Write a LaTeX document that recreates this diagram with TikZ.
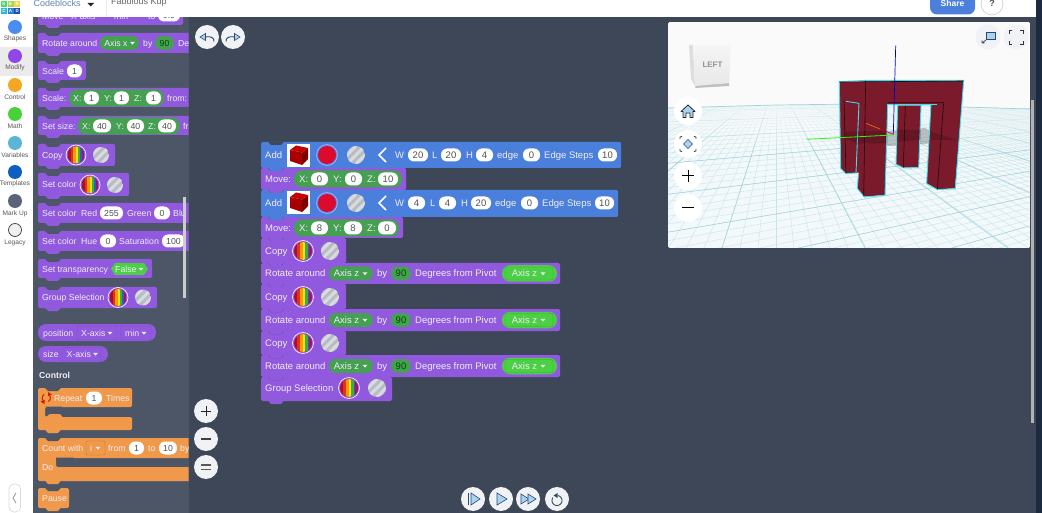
\documentclass[tikz,border=0pt]{standalone}
\usepackage{fontspec}
\setmainfont{Liberation Sans}
\definecolor{wsbg}{HTML}{3D4757}
\definecolor{palbg}{HTML}{4C5666}
\definecolor{navy}{HTML}{1C2A40}
\definecolor{purp}{HTML}{9059DE}
\definecolor{bluebk}{HTML}{4A80DC}
\definecolor{orng}{HTML}{F0994A}
\definecolor{gpill}{HTML}{45A052}
\definecolor{bgreen}{HTML}{4CCF45}
\definecolor{txtc}{HTML}{F0EDF7}
\definecolor{pilltxt}{HTML}{505050}
\definecolor{btn}{HTML}{F0F2F5}
\definecolor{icb}{HTML}{A9D3F5}
\definecolor{icd}{HTML}{2F4A68}
\definecolor{objred}{HTML}{7A1A2B}
\definecolor{objcy}{HTML}{35E0F0}
\definecolor{grid}{HTML}{C6E4EA}
\definecolor{gridm}{HTML}{A0D2DC}
\definecolor{ground}{HTML}{F3F9FA}
\definecolor{redsw}{HTML}{DC0A2D}
\definecolor{greybase}{HTML}{B8BCC4}
\definecolor{greystr}{HTML}{D8DBDF}
\definecolor{rb1}{HTML}{A80F2E}
\definecolor{rb2}{HTML}{E0301F}
\definecolor{rb3}{HTML}{F59A00}
\definecolor{rb4}{HTML}{F2E21A}
\definecolor{rb5}{HTML}{3FAE3A}
\definecolor{rb6}{HTML}{2A5FB5}
\definecolor{rb7}{HTML}{A8106E}
\newcommand{\fsz}{9.5}
\newcount\nn
\newcommand{\nx}{\global\advance\nn by 1 }
\newcommand{\tx}[3]{\nx\node[lbl] (t\the\nn) at (#1,#2) {#3};}
\newcommand{\pil}[4]{\nx\node[pillw,minimum width={(#2-#1)*1pt}] (p\the\nn) at ({(#1+#2)/2},#3) {#4};}
\newcommand{\gp}[4]{\nx\node[pillg,fill=#4,minimum height=17pt,rounded corners=8pt,minimum width={(#2-#1)*1pt}] (g\the\nn) at ({(#1+#2)/2},#3) {};}
\newcommand{\gpt}[5]{\nx\node[pillg,fill=#4,minimum width={(#2-#1)*1pt}] (g\the\nn) at ({(#1+#2)/2},#3) {#5};}
\newcommand{\gpb}[4]{\nx\node[pillg,fill=bgreen,minimum height=16.5pt,rounded corners=8pt,minimum width={(#2-#1)*1pt}] (g\the\nn) at ({(#1+#2)/2},#3) {#4};}
\newcommand{\dd}[3][txtc]{\fill[#1] (#2-2.5,#3-1.2) -- (#2+2.5,#3-1.2) -- (#2,#3+1.6) -- cycle;}
% block: color, x1,y1,x2,y2, notch colour
\newcommand{\bk}[6]{%
 \fill[#1,rounded corners=1.5pt] (#2,#3) rectangle (#4,#5);
 \fill[#6] (#2+7,#3-0.2) -- (#2+10,#3+3) -- (#2+20,#3+3) -- (#2+23,#3-0.2) -- cycle;
 \fill[#1] (#2+7,#5-0.5) -- (#2+10,#5+3) -- (#2+20,#5+3) -- (#2+23,#5-0.5) -- cycle;}
\newcommand{\rb}[3]{%
 \begin{scope}
 \clip (#1,#2) circle[radius=#3pt];
 \fill[rb1] (#1-#3,#2-#3) rectangle (#1+#3,#2+#3);
 \fill[rb2] (#1-#3*0.62,#2-#3) rectangle (#1-#3*0.3,#2+#3);
 \fill[rb3] (#1-#3*0.3,#2-#3) rectangle (#1-#3*0.02,#2+#3);
 \fill[rb4] (#1-#3*0.02,#2-#3) rectangle (#1+#3*0.22,#2+#3);
 \fill[rb5] (#1+#3*0.22,#2-#3) rectangle (#1+#3*0.5,#2+#3);
 \fill[rb6] (#1+#3*0.5,#2-#3) rectangle (#1+#3*0.68,#2+#3);
 \fill[rb7] (#1+#3*0.68,#2-#3) rectangle (#1+#3,#2+#3);
 \end{scope}
 \draw[white!90!purp,line width=0.7pt] (#1,#2) circle[radius=#3pt+1.5pt];}
\newcommand{\gy}[3]{%
 \begin{scope}
 \clip (#1,#2) circle[radius=#3pt];
 \fill[greybase] (#1-#3,#2-#3) rectangle (#1+#3,#2+#3);
 \foreach \d in {-9,0,9}{\draw[greystr,line width=3pt] (#1+\d-#3,#2+#3) -- (#1+\d+#3,#2-#3);}
 \end{scope}}
\newcommand{\redc}[2]{\fill[redsw] (#1,#2) circle[radius=9pt]; \draw[white!70!blue,line width=0.7pt] (#1,#2) circle[radius=10.4pt];}
\newcommand{\cubeicon}[2]{%
 \fill[white] (#1,#2) rectangle (#1+23,#2+23);
 \fill[red!65!black] (#1+3,#2+6) -- (#1+15,#2+8.5) -- (#1+15,#2+21) -- (#1+3,#2+17) -- cycle;
 \fill[red!50!black] (#1+15,#2+8.5) -- (#1+21,#2+4) -- (#1+21,#2+15) -- (#1+15,#2+21) -- cycle;
 \fill[red!78!black] (#1+3,#2+6) -- (#1+9,#2+1.5) -- (#1+21,#2+4) -- (#1+15,#2+8.5) -- cycle;}
\newcommand{\cbtn}[3]{\fill[btn] (#1,#2) circle[radius=#3pt];}
% workspace rotate row
\newcommand{\rotrow}[2]{%
 \bk{purp}{261}{#1}{560}{#2}{wsbg}
 \pgfmathsetmacro{\cy}{(#1+#2)/2}
 \tx{265}{\cy}{Rotate around}
 \gpt{329}{373}{\cy}{gpill}{\hspace{-9pt}Axis z}
 \dd{365}{\cy}
 \tx{377}{\cy}{by}
 \gpt{391}{411}{\cy}{gpill}{\textcolor{green!30!black}{90}}
 \tx{415}{\cy}{Degrees from Pivot}
 \gpb{502}{557}{\cy}{\hspace{-10pt}Axis z}
 \draw[bgreen!80!black,line width=0.4pt,rounded corners=2pt] (505,\cy-6.5) rectangle (553,\cy+6.5);
 \dd{543}{\cy}}
\newcommand{\copyrow}[3]{%
 \bk{purp}{261}{#1}{346}{#2}{wsbg}
 \tx{265}{#3}{Copy}
 \rb{303}{#3}{9}
 \gy{330}{#3}{9}}
\tikzset{
 lbl/.style={anchor=west,inner sep=0pt,text=txtc,font=\fontsize{\fsz}{10}\selectfont,text height=6.6pt,text depth=0pt},
 pillw/.style={fill=white,text=pilltxt,rounded corners=6pt,inner sep=0pt,minimum height=13pt,font=\fontsize{\fsz}{10}\selectfont,text height=6.3pt,text depth=0pt},
 pillg/.style={rounded corners=7pt,inner sep=0pt,minimum height=14pt,text=txtc,font=\fontsize{\fsz}{10}\selectfont,text height=6.3pt,text depth=0pt},
 side/.style={inner sep=0pt,text=black!65,font=\fontsize{6.6}{8}\selectfont},
}
\begin{document}
\begin{tikzpicture}[x=1pt,y=-1pt]
\useasboundingbox (0,0) rectangle (1042,513);
\fill[wsbg] (0,0) rectangle (1042,513);
\fill[palbg] (33,17) rectangle (189,513);
\fill[navy] (1036,0) rectangle (1042,513);
\fill[black!30] (1031,100) rectangle (1034,423);
%
% ---- viewer
\begin{scope}
\clip[rounded corners=1.5pt] (668,22) rectangle (1030,248);
\fill[white!96!gray] (668,22) rectangle (1030,110);
\fill[ground] (668,108) -- (776,105) -- (860,104) -- (1030,109) -- (1030,248) -- (668,248) -- cycle;
\begin{scope}
\clip (668,108) -- (776,105) -- (860,104) -- (1030,109) -- (1030,248) -- (668,248) -- cycle;
\foreach \k in {-90,...,90}{\draw[grid,line width=0.4pt] (776,78) -- ({776-54+18*\k},248);}
\foreach \k in {0,...,42}{\draw[grid,line width=0.4pt] (1500,92) -- (500,{92+(14+0.12*\k*\k)/0.724});}
\foreach \k in {-12,...,12}{\draw[gridm,line width=0.55pt] (776,78) -- ({776-54+143*\k},248);}
\foreach \k in {5,10,...,40}{\draw[gridm,line width=0.5pt] (1500,92) -- (500,{92+(14+0.12*\k*\k)/0.724});}
\foreach \y in {108,113,...,148}{\fill[white,opacity=0.12] (668,100) rectangle (1030,\y);}
\end{scope}
\draw[gridm,line width=0.7pt] (668,108) -- (776,105) -- (860,104) -- (1030,109);
\end{scope}
% view cube
\fill[black!25] (696,85) -- (729,83) -- (729,86) -- (695,88) -- cycle;
\fill[black!13] (689,45) -- (693,45) -- (695,86) -- (691,79) -- cycle;
\shade[top color=white!96!black,bottom color=black!9] (693,45) -- (731,45) -- (729,83) -- (695,86) -- cycle;
\node[inner sep=0pt,text=black!42,font=\fontsize{8}{9}\bfseries\selectfont] (cubelbl) at (712.5,65) {LEFT};
% shadow on ground
\fill[black!60,opacity=0.38] (888,131) -- (925,128) -- (935,134) -- (958,141) -- (900,146) -- (885,146) -- cycle;
% object
\begin{scope}[shift={(820,60)},x=0.3333pt,y=-0.3333pt]
\fill[objred] (233,137) -- (303,137) -- (296,322) -- (250,323) -- (228,312) -- cycle;
\draw[objcy,line width=0.9pt,line join=round] (233,137) -- (228,313) -- (250,324) -- (296,323) -- (303,137);
\draw[black!70!objred,line width=0.6pt] (256,137) -- (250,323);
\fill[objred] (58,65) -- (431,62) -- (405,385) -- (352,388) -- (320,370) -- (333,132) -- (203,132) -- (195,405) -- (133,410) -- (112,385) -- (116,338) -- (78,340) -- (62,325) -- cycle;
\draw[objcy,line width=0.9pt,line join=round] (58,65) -- (137,61) -- (431,61) -- (406,386) -- (352,389) -- (320,371) -- (333,132);
\draw[objcy,line width=0.9pt,line join=round] (58,65) -- (62,325) -- (78,341) -- (108,339);
\draw[objcy,line width=0.9pt,line join=round] (108,339) -- (117,130) -- (78,124);
\draw[objcy,line width=0.9pt,line join=round] (203,132) -- (195,406) -- (133,411) -- (112,386) -- (115,345);
\draw[objcy,line width=0.9pt] (203,132) -- (352,132);
\draw[black!70!objred,line width=0.6pt] (137,63) -- (131,408);
\draw[black!70!objred,line width=0.6pt] (58,66) -- (431,63);
\draw[black!70!objred,line width=0.6pt] (203,128) -- (371,128) -- (352,388);
\draw[black!70!objred,line width=0.6pt] (72,122) -- (78,340);
\fill[black,opacity=0.16] (72,215) -- (203,212) -- (203,250) -- (110,250) -- (72,235) -- cycle;
\fill[black,opacity=0.16] (233,210) -- (303,210) -- (303,240) -- (233,245) -- cycle;
\fill[black,opacity=0.16] (333,215) -- (410,240) -- (333,240) -- cycle;
\end{scope}
% axes
\draw[blue!80!black,line width=0.7pt] (895.7,45.7) -- (893.3,134.5);
\draw[green!85!yellow,line width=0.8pt] (806.7,139.3) -- (893.3,135);
\draw[orange!90!red,line width=0.6pt] (866,123.3) -- (880,129);
\draw[red!85!black,line width=0.6pt] (880,129) -- (893.3,134.3);
% viewer buttons
\foreach \yy in {111,144,176,208}{\fill[white] (688,\yy) circle[radius=14pt];}
\fill[btn] (988,37) circle[radius=12.5pt]; \fill[btn] (1016,37) circle[radius=12.5pt];
\fill[icb] (688,105) -- (681,111.5) -- (683,111.5) -- (683,117.5) -- (686,117.5) -- (686,113) -- (690,113) -- (690,117.5) -- (693,117.5) -- (693,111.5) -- (695,111.5) -- cycle;
\draw[black!85,line width=0.8pt,line join=round] (688,105) -- (681,111.5) -- (683,111.5) -- (683,117.5) -- (686,117.5) -- (686,113) -- (690,113) -- (690,117.5) -- (693,117.5) -- (693,111.5) -- (695,111.5) -- cycle;
\fill[icb,draw=icd,line width=0.6pt] (688,139.5) -- (692.5,144) -- (688,148.5) -- (683.5,144) -- cycle;
\draw[icd,line width=0.9pt] (680,139) -- (680,137) -- (682,136.5) (694,136.5) -- (696,137) -- (696,139) (680,149) -- (680,151) -- (682,151.5) (694,151.5) -- (696,151) -- (696,149);
\draw[black,line width=1pt] (682,176) -- (694,176) (688,170) -- (688,182);
\draw[black,line width=1pt] (682,208) -- (694,208);
\fill[icb,draw=icd,line width=0.5pt] (986,32.5) rectangle (995,39);
\draw[icd,line width=0.8pt] (982,43) -- (986,40) (982,43) -- (982,40.5) (982,43) -- (984.5,43);
\draw[black!80,line width=1pt] (1009,34) -- (1009,30.5) -- (1012,30.5) (1020,30.5) -- (1023,30.5) -- (1023,34) (1009,41) -- (1009,44.5) -- (1012,44.5) (1020,44.5) -- (1023,44.5) -- (1023,41);
%
% ---- workspace blocks (drawn bottom to top so tabs sit over the next block)
\bk{purp}{261}{377}{392}{401}{wsbg}
\tx{265}{388}{Group Selection}
\rb{349}{388}{9}
\gy{377}{388}{9}
\rotrow{355}{377}
\copyrow{331}{355}{343}
\rotrow{309}{331}
\copyrow{284}{309}{297}
\rotrow{263}{284}
\copyrow{238}{263}{251}
% Move 2
\bk{purp}{261}{217}{403}{238}{wsbg}
\tx{265}{228}{Move:}
\gp{294}{399}{228}{gpill}
\tx{299}{228}{X:} \pil{311}{328}{228}{8}
\tx{333}{228}{Y:} \pil{344}{362}{228}{8}
\tx{367}{228}{Z:} \pil{378}{396}{228}{0}
% Add 2
\bk{bluebk}{261}{190}{618}{217}{wsbg}
\tx{265}{203}{Add}
\cubeicon{287}{191}
\redc{327}{203}
\gy{356}{203}{9}
\draw[white,line width=1.5pt] (386,196) -- (379,203) -- (386,210);
\tx{395}{203}{W} \pil{408}{425}{203}{4}
\tx{430}{203}{L} \pil{439}{456}{203}{4}
\tx{461}{203}{H} \pil{471}{491}{203}{20}
\tx{495}{203}{edge} \pil{521}{538}{203}{0}
\tx{542}{203}{Edge Steps} \pil{595}{614}{203}{10}
% Move 1
\bk{purp}{261}{168}{406}{190}{wsbg}
\tx{265}{179}{Move:}
\gp{294}{402}{179}{gpill}
\tx{299}{179}{X:} \pil{311}{328}{179}{0}
\tx{333}{179}{Y:} \pil{345}{362}{179}{0}
\tx{367}{179}{Z:} \pil{378}{398}{179}{10}
% Add 1
\bk{bluebk}{261}{142}{621}{168}{wsbg}
\tx{265}{155}{Add}
\cubeicon{287}{144}
\redc{327}{155}
\gy{356}{155}{9}
\draw[white,line width=1.5pt] (386,148) -- (379,155) -- (386,162);
\tx{395}{155}{W} \pil{408}{428}{155}{20}
\tx{432}{155}{L} \pil{441}{461}{155}{20}
\tx{466}{155}{H} \pil{476}{493}{155}{4}
\tx{497}{155}{edge} \pil{523}{540}{155}{0}
\tx{544}{155}{Edge Steps} \pil{598}{617}{155}{10}
%
% ---- workspace buttons
\cbtn{207}{37}{12} \cbtn{233}{37}{12}
\draw[icd,line width=0.9pt] (205,37) .. controls (212,36) and (214,38) .. (214,41.5);
\fill[icb,draw=icd,line width=0.6pt] (200,37) -- (205.5,33.5) -- (205.5,40.5) -- cycle;
\draw[icd,line width=0.9pt] (235,37) .. controls (228,36) and (226,38) .. (226,41.5);
\fill[icb,draw=icd,line width=0.6pt] (240,37) -- (234.5,33.5) -- (234.5,40.5) -- cycle;
\cbtn{206}{411}{12} \cbtn{206}{439}{12} \cbtn{206}{467}{12}
\draw[black!85,line width=1pt] (201,411) -- (211,411) (206,406) -- (206,416);
\draw[black!75,line width=1.2pt] (201,439) -- (211,439);
\draw[black!65,line width=1.2pt] (201,465) -- (211,465) (201,469.5) -- (211,469.5);
\cbtn{473}{499}{12} \cbtn{501}{499}{12} \cbtn{528}{499}{12} \cbtn{557}{499}{12}
\draw[icd,line width=1pt] (468,493) -- (468,505);
\fill[icb,draw=icd,line width=0.6pt] (471,493) -- (480,499) -- (471,505) -- cycle;
\fill[icb,draw=icd,line width=0.6pt] (497,493) -- (507,499) -- (497,505) -- cycle;
\fill[icb,draw=icd,line width=0.6pt] (521,494) -- (529,499) -- (521,504) -- cycle;
\fill[icb,draw=icd,line width=0.6pt] (528,494) -- (536,499) -- (528,504) -- cycle;
\draw[icd,line width=0.9pt] plot[smooth,domain=-80:215,samples=24] ({557+5*cos(\x)},{500.5+5*sin(\x)});
\fill[icd] (553.5,495.5) -- (557.5,493) -- (557.5,498) -- cycle;
%
% ---- palette (clipped to its panel)
\begin{scope}
\renewcommand{\fsz}{8.7}
\clip (33,17) rectangle (188.5,513);
\bk{purp}{38}{8}{183}{25}{palbg}
\tx{42}{16}{Move}\tx{71}{16}{X-axis}\tx{114}{16}{min}\tx{148}{16}{to}\pil{158}{180}{15}{0.0}
\bk{purp}{38}{33}{192}{53}{palbg}
\tx{42}{43}{Rotate around}\gpt{100}{139}{43}{gpill}{\hspace{-7pt}Axis x}\dd{132.5}{43}\tx{143}{43}{by}\gpt{155}{174}{43}{gpill}{\textcolor{green!30!black}{90}}\tx{178}{43}{De}
\bk{purp}{38}{61}{86}{80}{palbg}
\tx{42}{71}{Scale}\pil{67}{82}{71}{1}
\bk{purp}{38}{88}{192}{107}{palbg}
\tx{42}{98}{Scale:}\gp{69}{164}{98}{gpill}\tx{73}{98}{X:}\pil{84}{99}{98}{1}\tx{104}{98}{Y:}\pil{114}{129}{98}{1}\tx{134}{98}{Z:}\pil{146}{161}{98}{1}\tx{167}{98}{from:}
\bk{purp}{38}{116}{192}{135}{palbg}
\tx{42}{126}{Set size:}\gp{78}{180}{126}{gpill}\tx{82}{126}{X:}\pil{93}{111}{126}{40}\tx{116}{126}{Y:}\pil{127}{144}{126}{40}\tx{148}{126}{Z:}\pil{158}{176}{126}{40}\tx{183}{126}{fr}
\bk{purp}{38}{144}{115}{166}{palbg}
\tx{42}{155}{Copy}\rb{76}{155}{8.5}\gy{101}{155}{8}
\bk{purp}{38}{173}{129}{196}{palbg}
\tx{42}{184.5}{Set color}\rb{90}{185}{8.5}\gy{115}{185}{8}
\bk{purp}{38}{203}{192}{223}{palbg}
\tx{42}{213}{Set color}\tx{81}{213}{Red}\pil{100}{123}{213}{255}\tx{127}{213}{Green}\pil{154}{170}{213}{0}\tx{173}{213}{Blu}
\bk{purp}{38}{231}{192}{251}{palbg}
\tx{42}{241}{Set color}\tx{81}{241}{Hue}\pil{100}{116}{241}{0}\tx{119}{241}{Saturation}\pil{162}{185}{241}{100}
\bk{purp}{38}{259}{152}{278}{palbg}
\tx{42}{269}{Set transparency}
\fill[bgreen] (111,269) -- (115,263) -- (144,263) -- (148,269) -- (144,275) -- (115,275) -- cycle;
\tx{115}{269}{False}\dd{141}{269}
\bk{purp}{38}{287}{157}{308}{palbg}
\tx{42}{297.5}{Group Selection}\rb{118}{297.5}{8.5}\gy{143}{297.5}{8}
\fill[purp,rounded corners=8pt] (38,324) rectangle (156,341);
\tx{43}{333}{position}
\draw[purp!85!black,line width=0.4pt,rounded corners=1pt] (77,326) rectangle (117,340);
\tx{81}{333}{X-axis}\dd{110}{333}
\draw[purp!85!black,line width=0.4pt,rounded corners=1pt] (121,326) rectangle (151,340);
\tx{125}{333}{min}\dd{144}{333}
\fill[purp,rounded corners=8pt] (38,346) rectangle (108,362);
\tx{43}{354}{size}
\draw[purp!85!black,line width=0.4pt,rounded corners=1pt] (62,347.5) rectangle (101,361);
\tx{66.5}{354}{X-axis}\dd{95.5}{354}
\node[lbl,font=\fontsize{8.7}{10}\bfseries\selectfont] (ctrlhead) at (39,375) {Control};
% repeat
\fill[orng,rounded corners=1.5pt] (38,388) -- (132,388) -- (132,407) -- (45,407) -- (45,417) -- (132,417) -- (132,430) -- (38,430) -- cycle;
\fill[palbg] (45,406.5) -- (62,406.5) -- (59,410.5) -- (49,410.5) -- (47,408) -- cycle;
\fill[palbg] (45,387.8) -- (48,391) -- (58,391) -- (61,387.8) -- cycle;
\fill[orng] (45,417.5) -- (50,414) -- (60,414) -- (63,417.5) -- cycle;
\fill[orng] (45,429.5) -- (48,433) -- (58,433) -- (61,429.5) -- cycle;
\draw[red!70!orange!80!black,line width=1pt] plot[smooth,domain=-60:60,samples=10] ({46.3+4*cos(\x)},{398+4*sin(\x)});
\draw[red!70!orange!80!black,line width=1pt] plot[smooth,domain=120:240,samples=10] ({46.3+4*cos(\x)},{398+4*sin(\x)});
\fill[red!70!orange!80!black] (48,392) -- (52,394.5) -- (48,396) -- cycle;
\fill[red!70!orange!80!black] (44.5,400) -- (40.5,401.5) -- (44.5,404) -- cycle;
\tx{54}{398}{Repeat}\pil{86}{102}{398}{1}\tx{106}{398}{Times}
% count
\fill[orng,rounded corners=1.5pt] (38,438) -- (192,438) -- (192,458) -- (56,458) -- (56,467) -- (192,467) -- (192,481) -- (38,481) -- cycle;
\fill[palbg] (45,437.8) -- (48,441) -- (58,441) -- (61,437.8) -- cycle;
\fill[palbg] (56,457.5) -- (74,457.5) -- (71,461) -- (60,461) -- (56,460) -- cycle;
\fill[orng] (45,480.5) -- (48,484) -- (58,484) -- (61,480.5) -- cycle;
\tx{42}{448}{Count with}
\draw[orng!80!black,line width=0.4pt,rounded corners=1pt] (86,441) rectangle (105,455);
\tx{90}{448}{i}\dd{98}{448}
\tx{108}{448}{from}\pil{129}{144}{448}{1}\tx{148}{448}{to}\pil{159}{177}{448}{10}\tx{180}{448}{by}
\tx{42}{467.5}{Do}
\bk{orng}{38}{488}{69}{508}{palbg}
\tx{42}{498}{Pause}
\end{scope}
\fill[black!20] (183,197) rectangle (186,298);
%
% ---- left rail
\fill[white] (0,0) rectangle (33,513);
\fill[black!8] (0,47) rectangle (33,76);
\foreach \yc/\lc/\yl/\nm in {27/4A8CF0/39/Shapes,56/9146E8/68/Modify,85/F5A623/97/Control,114/49D13A/126/Math,143/5CB4D6/155/Variables,172/0C5FC0/184/Templates,201/5A6476/214/Mark Up}{
 \definecolor{sc}{HTML}{\lc}
 \fill[sc] (15,\yc) circle[radius=7pt];
 \node[side] (s\yc) at (15,\yl) {\nm};}
\fill[black!6,draw=black!75,line width=0.7pt] (15,230) circle[radius=6.5pt];
\node[side] (slegacy) at (15,243) {Legacy};
\draw[black!15,fill=white,line width=0.7pt,rounded corners=5pt] (9,484) rectangle (20.5,512);
\draw[black!45,line width=0.7pt] (16,493) -- (13,498) -- (16,503);
%
% ---- top bar
\fill[white] (0,0) rectangle (1036,17);
\draw[black!8,line width=0.5pt] (106,0) -- (106,17);
\foreach \xa/\ya/\cl in {1/1/4CD964,7.6/1/A4D65E,14.2/1/F5D547,1/7.8/2FB8D8,7.6/7.8/2F80D8,14.2/7.8/1A50B0}{
 \definecolor{tilec}{HTML}{\cl}
 \fill[tilec] (\xa,\ya) rectangle +(6,6);
}
\node[inner sep=0pt,text=white,font=\fontsize{4.5}{5}\bfseries\selectfont] (lk) at (4,4) {K};
\node[inner sep=0pt,text=white,font=\fontsize{4.5}{5}\bfseries\selectfont] (le) at (10.6,4) {E};
\node[inner sep=0pt,text=white,font=\fontsize{4.5}{5}\bfseries\selectfont] (lr) at (17.2,4) {R};
\node[inner sep=0pt,text=white,font=\fontsize{4.5}{5}\bfseries\selectfont] (lc) at (4,10.8) {C};
\node[inner sep=0pt,text=white,font=\fontsize{4.5}{5}\bfseries\selectfont] (la) at (10.6,10.8) {A};
\node[inner sep=0pt,text=white,font=\fontsize{4.5}{5}\bfseries\selectfont] (ld) at (17.2,10.8) {D};
\definecolor{cbtxt}{HTML}{5F86B0}
\node[anchor=west,inner sep=0pt,text=cbtxt,font=\fontsize{9}{10}\selectfont] (codeb) at (33.5,3) {Codeblocks};
\fill[black!85] (87.5,3) -- (94,3) -- (90.8,6.5) -- cycle;
\node[anchor=west,inner sep=0pt,text=black!60,font=\fontsize{9}{10}\selectfont] (kup) at (111,2) {Fabulous Kup};
\fill[bluebk,rounded corners=7pt] (930,-6) rectangle (975,14.5);
\node[inner sep=0pt,text=white,font=\fontsize{8.5}{10}\bfseries\selectfont] (share) at (952.5,3.5) {Share};
\draw[black!18,fill=white,line width=0.7pt] (992,4) circle[radius=11pt];
\node[inner sep=0pt,text=black!70,font=\fontsize{9}{10}\bfseries\selectfont] (qm) at (992,3.5) {?};
\end{tikzpicture}
\end{document}
